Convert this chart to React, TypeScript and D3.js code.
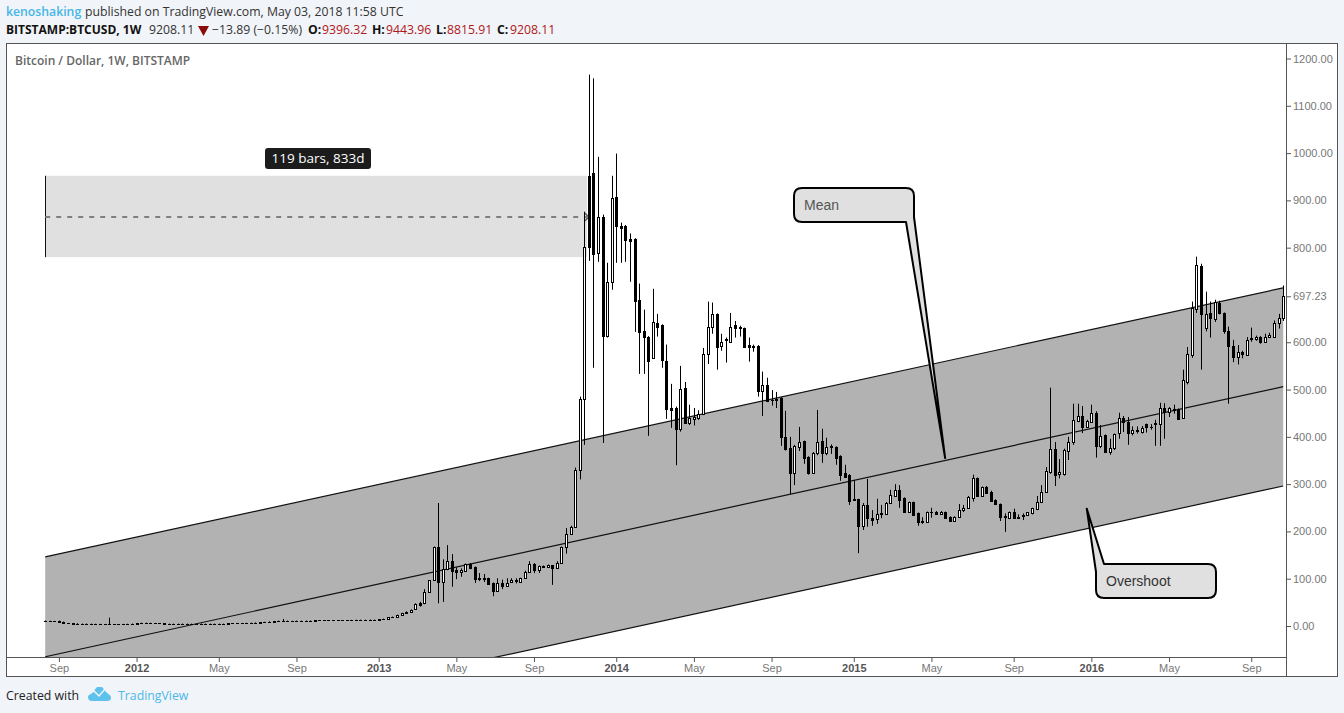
import React, { useRef, useEffect } from 'react';
import * as d3 from 'd3';

// weekly BTCUSD bars, ten per line
const opens = [
  11, 10.6, 10.2, 10, 9, 6, 5.4, 5.2, 5, 4.8,
  4.6, 4.4, 4.2, 4, 3.8, 3.6, 3.6, 3.8, 4, 4.4,
  4.8, 6, 6.6, 6.4, 6.2, 5.8, 5.4, 5.2, 5, 5,
  5, 4.8, 5, 5, 5.2, 5, 5, 5.2, 5, 5.2,
  5.2, 5.4, 5.6, 6, 6, 6.4, 6.6, 7.2, 8, 8.6,
  9.4, 10.4, 11, 11, 10.6, 10.4, 11, 11, 11.2, 11.6,
  12, 12, 11.8, 12, 12, 12.2, 12, 12.4, 12.6, 12.8,
  13, 13, 13.4, 13.6, 14, 15, 18, 19, 23, 27,
  30, 36, 48, 48, 72, 97, 167, 93, 120, 137,
  118, 114, 116, 131, 125, 101, 101, 101, 91, 74,
  91, 85, 93, 97, 94, 101, 114, 131, 118, 126,
  125, 128, 123, 133, 167, 195, 210, 330, 480, 952,
  958, 789, 865, 613, 728, 908, 846, 845, 819, 819,
  690, 624, 612, 567, 641, 637, 561, 461, 461, 417,
  504, 430, 438, 440, 449, 576, 633, 660, 593, 605,
  601, 637, 633, 630, 595, 593, 593, 497, 510, 478,
  480, 482, 400, 377, 324, 379, 391, 358, 324, 366,
  392, 366, 379, 379, 360, 324, 320, 268, 268, 212,
  256, 228, 226, 239, 237, 260, 275, 288, 271, 241,
  262, 239, 222, 220, 241, 241, 237, 241, 231, 222,
  231, 245, 250, 271, 313, 275, 294, 284, 267, 258,
  231, 229, 241, 231, 233, 235, 239, 248, 262, 284,
  326, 375, 322, 322, 370, 389, 434, 444, 421, 432,
  451, 381, 404, 368, 377, 408, 440, 432, 408, 415,
  411, 427, 421, 430, 427, 461, 453, 457, 459, 440,
  516, 574, 671, 762, 631, 662, 650, 684, 662, 624,
  593, 569, 580, 574, 610, 607, 612, 601, 612, 612,
  641, 652,
];
const highs = [
  11.6, 11.2, 10.8, 11.5, 9.4, 6.4, 5.8, 6.2, 5.4, 5.4,
  5, 4.8, 4.6, 4.4, 17.6, 4, 4.2, 4.4, 4.8, 5.2,
  6.4, 7, 7.2, 6.8, 6.6, 6.2, 5.8, 5.6, 5.4, 5.4,
  5.4, 5.4, 5.4, 5.6, 5.6, 5.4, 5.6, 5.6, 5.6, 5.6,
  5.8, 6, 6.4, 6.4, 6.8, 7, 7.6, 8.4, 9, 9.8,
  10.8, 11.4, 15, 11.4, 11, 11.4, 11.4, 11.6, 12, 12.6,
  12.6, 12.4, 12.4, 12.4, 12.6, 12.6, 12.8, 13, 13.2, 13.4,
  13.4, 13.8, 14, 14.4, 15.5, 19, 20, 24, 28, 31,
  35, 48, 51, 78, 97, 168, 260, 141, 171, 152,
  124, 122, 132, 133, 126, 112, 110, 102, 92, 101,
  98, 101, 101, 101, 102, 117, 137, 133, 128, 128,
  130, 129, 137, 168, 207, 212, 335, 485, 876, 1166,
  1158, 992, 870, 768, 952, 999, 853, 848, 830, 820,
  724, 669, 613, 713, 660, 638, 595, 512, 464, 550,
  516, 468, 461, 456, 588, 686, 684, 661, 618, 610,
  662, 645, 635, 631, 610, 595, 594, 538, 525, 499,
  495, 484, 455, 400, 383, 421, 392, 359, 368, 457,
  417, 398, 384, 380, 361, 341, 321, 309, 269, 260,
  311, 245, 269, 256, 262, 288, 300, 298, 272, 263,
  263, 240, 230, 242, 250, 243, 243, 242, 232, 232,
  258, 256, 275, 320, 314, 295, 296, 286, 268, 259,
  238, 242, 248, 236, 238, 241, 250, 275, 298, 336,
  504, 389, 353, 375, 400, 470, 470, 465, 436, 468,
  454, 425, 405, 396, 407, 451, 444, 442, 422, 422,
  423, 428, 427, 436, 472, 471, 463, 468, 460, 542,
  590, 686, 781, 766, 707, 686, 690, 688, 663, 633,
  605, 594, 582, 611, 631, 614, 613, 618, 620, 646,
  660, 720,
];
const lows = [
  10.2, 9.8, 9.6, 8.6, 5.6, 5, 4.8, 4.4, 4.4, 4.2,
  4, 3.8, 3.6, 3.4, 3.4, 3.2, 3.2, 3.4, 3.6, 4,
  4.4, 5.6, 6, 5.8, 5.4, 5, 4.8, 4.8, 4.6, 4.6,
  4.4, 4.4, 4.6, 4.6, 4.6, 4.6, 4.8, 4.6, 4.8, 4.8,
  4.8, 5, 5.2, 5.6, 5.6, 6, 6.2, 6.8, 7.6, 8.2,
  9, 10, 10.4, 10.2, 10, 10, 10.6, 10.6, 10.8, 11.2,
  11.6, 11.4, 11.4, 11.6, 11.6, 11.6, 11.6, 12, 12.2, 12.4,
  12.6, 12.6, 13, 13.2, 13.5, 14.5, 17, 18.5, 22, 26,
  29, 35, 41, 46, 71, 95, 48, 51, 118, 83,
  99, 104, 114, 120, 91, 95, 93, 88, 63, 73,
  78, 84, 92, 90, 92, 100, 113, 112, 112, 124,
  123, 87, 122, 131, 153, 193, 208, 310, 383, 772,
  546, 770, 387, 610, 711, 768, 768, 770, 728, 622,
  533, 533, 402, 566, 612, 546, 438, 419, 340, 411,
  428, 425, 424, 436, 446, 554, 618, 542, 582, 557,
  600, 610, 612, 589, 559, 580, 485, 444, 475, 466,
  461, 381, 371, 279, 298, 370, 343, 320, 322, 361,
  345, 361, 364, 341, 307, 313, 256, 265, 154, 203,
  210, 212, 216, 228, 236, 258, 273, 250, 239, 239,
  233, 212, 216, 218, 229, 235, 235, 228, 220, 221,
  229, 241, 249, 263, 274, 273, 280, 263, 257, 222,
  199, 226, 228, 226, 224, 234, 236, 245, 260, 282,
  322, 296, 312, 318, 351, 383, 431, 408, 419, 430,
  356, 376, 366, 362, 372, 396, 410, 383, 403, 407,
  407, 409, 415, 381, 381, 396, 442, 449, 438, 438,
  511, 567, 662, 542, 623, 610, 643, 659, 618, 470,
  558, 553, 566, 572, 601, 603, 597, 600, 610, 610,
  629, 645,
];
const closes = [
  10.6, 10.2, 10, 9, 6, 5.4, 5.2, 5, 4.8, 4.6,
  4.4, 4.2, 4, 3.8, 3.6, 3.6, 3.8, 4, 4.4, 4.8,
  6, 6.6, 6.4, 6.2, 5.8, 5.4, 5.2, 5, 5, 5,
  4.8, 5, 5, 5.2, 5, 5, 5.2, 5, 5.2, 5.2,
  5.4, 5.6, 6, 6, 6.4, 6.6, 7.2, 8, 8.6, 9.4,
  10.4, 11, 11, 10.6, 10.4, 11, 11, 11.2, 11.6, 12,
  12, 11.8, 12, 12, 12.2, 12, 12.4, 12.6, 12.8, 13,
  13, 13.4, 13.6, 14, 15, 18, 19, 23, 27, 30,
  34, 47, 44, 72, 97, 167, 93, 120, 137, 117,
  114, 118, 131, 123, 99, 100, 99, 89, 74, 91,
  85, 91, 97, 96, 101, 114, 131, 118, 127, 125,
  129, 123, 133, 167, 195, 210, 330, 480, 802, 802,
  787, 865, 613, 728, 906, 845, 842, 817, 815, 688,
  622, 612, 561, 643, 633, 563, 459, 457, 417, 501,
  430, 440, 442, 449, 576, 633, 660, 590, 601, 606,
  633, 631, 630, 590, 591, 590, 497, 510, 476, 477,
  477, 400, 375, 324, 381, 389, 356, 324, 366, 389,
  366, 379, 380, 356, 320, 315, 265, 266, 212, 256,
  228, 225, 237, 237, 260, 277, 288, 267, 241, 262,
  235, 220, 220, 241, 241, 237, 241, 229, 222, 231,
  245, 250, 273, 313, 275, 294, 281, 265, 258, 231,
  232, 241, 229, 229, 234, 241, 250, 262, 284, 328,
  375, 320, 326, 372, 389, 436, 444, 421, 434, 451,
  381, 402, 368, 377, 406, 440, 432, 408, 415, 413,
  419, 421, 421, 427, 461, 453, 461, 458, 438, 521,
  576, 673, 764, 660, 660, 652, 686, 662, 624, 593,
  569, 580, 576, 605, 607, 612, 601, 612, 616, 641,
  652, 697.23,
];

const priceTicks = [0, 100, 200, 300, 400, 500, 600, 697.23, 800, 900, 1000, 1100, 1200];
const timeTickBars = [3, 20, 38, 55, 73, 90, 107, 125, 142, 159, 177, 194, 212, 229, 246, 264];
const timeTickLabels = ['Sep', '2012', 'May', 'Sep', '2013', 'May', 'Sep', '2014', 'May', 'Sep', '2015', 'May', 'Sep', '2016', 'May', 'Sep'];

// channel drawn on the chart: price at first and last bar
const channelBars = [0, 271];
const channelUpper = [146, 715];
const channelMean = [-65, 506];
const channelLower = [-273, 296];

// date range drawing
const rangeBars = [0, 118.6];
const rangePrices = [780, 952];

const W = 1344;
const H = 713;
const plot = { left: 7, right: 1286, top: 44, bottom: 657 };
const axisFont = '"Liberation Sans", Arial, sans-serif';
const headFont = '"Open Sans", sans-serif';

const x = d3.scaleLinear().domain([0, 271]).range([45.2, 1283.2]);
const y = d3.scaleLinear().domain([0, 1200]).range([626, 58.5]);
const snap = (v: number) => Math.round(v) + 0.5;

const App: React.FC = () => {
  const priceAxisRef = useRef<SVGGElement>(null);
  const timeAxisRef = useRef<SVGGElement>(null);

  useEffect(() => {
    const priceAxis = d3.axisRight(y)
      .tickValues(priceTicks)
      .tickSize(4)
      .tickPadding(2)
      .tickFormat(d => (d as number).toFixed(2));
    const pg = d3.select(priceAxisRef.current);
    pg.call(priceAxis as any);
    pg.select('.domain').remove();
    pg.selectAll('line').attr('stroke', '#555');
    pg.selectAll('text').attr('fill', '#777').attr('font-size', 11).attr('font-family', axisFont);

    const timeAxis = d3.axisBottom(x)
      .tickValues(timeTickBars)
      .tickSize(4)
      .tickPadding(2)
      .tickFormat((d, i) => timeTickLabels[i]);
    const tg = d3.select(timeAxisRef.current);
    tg.call(timeAxis as any);
    tg.select('.domain').remove();
    tg.selectAll('line').attr('stroke', '#555');
    tg.selectAll('text')
      .attr('font-size', 11)
      .attr('font-family', axisFont)
      .attr('fill', (d, i) => (/^\d/.test(timeTickLabels[i]) ? '#555' : '#777'))
      .attr('font-weight', (d, i) => (/^\d/.test(timeTickLabels[i]) ? 700 : 400));
  }, []);

  const bandPath = d3.line<number>()
    .x((d, i) => x(channelBars[i]))
    .y(d => y(d));

  const channelArea = d3.area<number>()
    .x((d, i) => x(channelBars[i]))
    .y0((d, i) => y(channelLower[i]))
    .y1(d => y(d))(channelUpper) as string;

  const meanTip = [x(197), y(355)];
  const overTip = [x(228), y(248)];

  return (
    <svg width={W} height={H} style={{ position: 'absolute', left: 0, top: 0, display: 'block' }}>
      <defs>
        <clipPath id="plot-clip">
          <rect x={plot.left} y={plot.top} width={plot.right - plot.left} height={plot.bottom - plot.top} />
        </clipPath>
      </defs>
      <rect width={W} height={H} fill="#f1f4f8" />
      <rect x={6.5} y={43.5} width={1331} height={633} fill="#fff" stroke="#555" />

      {/* header */}
      <g fontFamily={headFont} fontSize={12.25}>
        <text x={6} y={16} fill="#45b6ea" fontWeight={600}>kenoshaking</text>
        <text x={85} y={16} fill="#333">published on TradingView.com, May 03, 2018 11:58 UTC</text>
        <text x={6} y={34} fill="#111" fontWeight={700} fontSize={12}>BITSTAMP:BTCUSD, 1W</text>
        <text x={149} y={34} fill="#333">9208.11</text>
        <path d="M198 26 H209 L203.5 36 Z" fill="#8b0a0a" />
        <text x={212} y={34} fill="#333">−13.89 (−0.15%)</text>
        <text x={308} y={34} fill="#111" fontWeight={700}>O:</text>
        <text x={322} y={34} fill="#b01818">9396.32</text>
        <text x={372} y={34} fill="#111" fontWeight={700}>H:</text>
        <text x={386} y={34} fill="#b01818">9443.96</text>
        <text x={436} y={34} fill="#111" fontWeight={700}>L:</text>
        <text x={447} y={34} fill="#b01818">8815.91</text>
        <text x={497} y={34} fill="#111" fontWeight={700}>C:</text>
        <text x={510} y={34} fill="#b01818">9208.11</text>
        <text x={15} y={65} fill="#666" fontWeight={600} fontSize={12}>Bitcoin / Dollar, 1W, BITSTAMP</text>
      </g>

      <g clipPath="url(#plot-clip)">
        {/* date range */}
        <rect
          x={x(rangeBars[0])}
          y={y(rangePrices[1])}
          width={x(rangeBars[1]) - x(rangeBars[0])}
          height={y(rangePrices[0]) - y(rangePrices[1])}
          fill="#e0e0e0"
        />
        <line x1={snap(x(0))} x2={snap(x(0))} y1={y(rangePrices[1])} y2={y(rangePrices[0])} stroke="#111" />
        <line
          x1={x(rangeBars[0])}
          x2={x(rangeBars[1])}
          y1={y(865)}
          y2={y(865)}
          stroke="#7f7f7f"
          strokeWidth={2}
          strokeDasharray="5 6"
        />
        <path d={`M${x(118.1)} ${y(865) - 4} L${x(118.1) + 4} ${y(865)} L${x(118.1)} ${y(865) + 4}`} fill="none" stroke="#555" strokeWidth={1.5} />

        {/* channel */}
        <path d={channelArea} fill="#b2b2b2" />
        {[channelUpper, channelMean, channelLower].map((s, k) => (
          <path key={k} d={bandPath(s) as string} fill="none" stroke="#111" strokeWidth={1.2} />
        ))}

        {/* candles */}
        {closes.map((c, i) => {
          const o = opens[i];
          const up = c >= o;
          const px = snap(x(i));
          const top = snap(y(Math.max(o, c)));
          const bot = snap(y(Math.min(o, c)));
          return (
            <g key={i}>
              <line x1={px} x2={px} y1={y(highs[i])} y2={y(lows[i])} stroke="#000" />
              {bot > top ? (
                <rect x={px - 1} y={top} width={2} height={bot - top} fill={up ? '#fff' : '#000'} stroke="#000" />
              ) : (
                <line x1={px - 1.5} x2={px + 1.5} y1={top} y2={top} stroke="#000" />
              )}
            </g>
          );
        })}
      </g>

      {/* callouts */}
      <g fill="#e0e0e0" stroke="#000" strokeWidth={2} strokeLinejoin="round">
        <path d={`M802 188 H906 Q914 188 914 196 V217 L${meanTip[0]} ${meanTip[1]} L906 222 H802 Q794 222 794 214 V196 Q794 188 802 188 Z`} />
        <path d={`M1104 564 H1208 Q1216 564 1216 572 V590 Q1216 598 1208 598 H1104 Q1096 598 1096 590 V572 L${overTip[0]} ${overTip[1]} Z`} />
      </g>
      <g fontFamily={axisFont} fontSize={14}>
        <text x={804} y={210} fill="#555">Mean</text>
        <text x={1106} y={586} fill="#333">Overshoot</text>
      </g>

      {/* range label */}
      <rect x={265} y={148} width={106} height={21} rx={3} fill="#1c1c1c" />
      <text x={318} y={163} textAnchor="middle" fill="#fff" fontFamily={headFont} fontSize={13.5}>119 bars, 833d</text>

      {/* axes */}
      <line x1={plot.right + 0.5} x2={plot.right + 0.5} y1={44} y2={676} stroke="#555" />
      <line x1={7} x2={1286} y1={plot.bottom + 0.5} y2={plot.bottom + 0.5} stroke="#555" />
      <g ref={priceAxisRef} transform={`translate(${plot.right + 1},0)`} />
      <g ref={timeAxisRef} transform={`translate(0,${plot.bottom + 1})`} />

      {/* footer */}
      <g fontFamily={headFont} fontSize={12.3}>
        <text x={6} y={700} fill="#222">Created with</text>
        <text x={118} y={700} fill="#4db8e8">TradingView</text>
      </g>
      <path d="M88 697 Q88 694 92 693 L97 687 H102 L107 693 Q111 695 111 698 Q111 701 107 701 H92 Q88 701 88 697 Z" fill="#5ec3ec" />
      <path d="M88 695 L94 691 L99 696 L105 689 L111 695" fill="none" stroke="#f1f4f8" strokeWidth={1.5} />
    </svg>
  );
};

export default App;
